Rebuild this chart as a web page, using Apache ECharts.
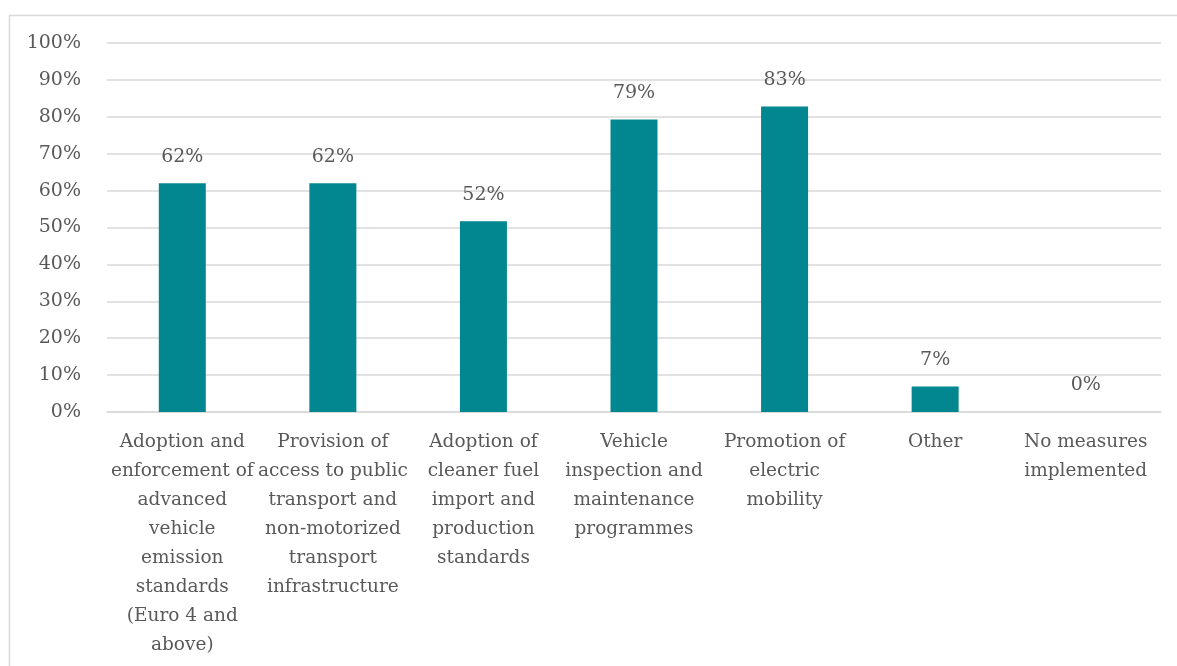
<!DOCTYPE html>
<html>
<head>
<meta charset="utf-8">
<script src="https://cdn.jsdelivr.net/npm/echarts@6/dist/echarts.min.js"></script>
<style>
html,body{margin:0;padding:0;background:#fff;}
#main{width:1177px;height:666px;}
</style>
</head>
<body>
<div id="main"></div>
<script>
const categories = [
  "Adoption and\nenforcement of\nadvanced\nvehicle\nemission\nstandards\n(Euro 4 and\nabove)",
  "Provision of\naccess to public\ntransport and\nnon-motorized\ntransport\ninfrastructure",
  "Adoption of\ncleaner fuel\nimport and\nproduction\nstandards",
  "Vehicle\ninspection and\nmaintenance\nprogrammes",
  "Promotion of\nelectric\nmobility",
  "Other",
  "No measures\nimplemented"
];
const values = [62, 62, 51.7, 79.3, 82.8, 6.9, 0];
const yTicks = [0, 10, 20, 30, 40, 50, 60, 70, 80, 90, 100];

const FONT = "'DejaVu Serif', 'Liberation Serif', serif";
const TXT = '#595959';

const chart = echarts.init(document.getElementById('main'), null, {renderer: 'canvas'});
chart.setOption({
  animation: false,
  backgroundColor: '#ffffff',
  graphic: [{
    type: 'rect', left: 7, top: 13, silent: true,
    shape: {width: 1300, height: 800},
    style: {fill: 'none', stroke: '#d9d9d9', lineWidth: 1.5}
  }],
  grid: {left: 107, right: 16, top: 43, bottom: 254, containLabel: false},
  xAxis: {
    type: 'category',
    data: categories,
    axisLine: {show: true, lineStyle: {color: '#d9d9d9', width: 1.5}},
    axisTick: {show: false},
    axisLabel: {
      interval: 0, margin: 16, color: TXT, fontFamily: FONT, fontSize: 18.5,
      lineHeight: 29, align: 'center'
    }
  },
  yAxis: {
    type: 'value', min: yTicks[0], max: yTicks[yTicks.length - 1], interval: 10,
    axisLine: {show: false}, axisTick: {show: false},
    splitLine: {lineStyle: {color: '#d9d9d9', width: 1.5}},
    axisLabel: {
      margin: 26, color: TXT, fontFamily: FONT, fontSize: 19,
      formatter: v => v + '%'
    }
  },
  series: [{
    type: 'bar',
    data: values,
    barWidth: 47,
    itemStyle: {color: '#02868f'},
    label: {
      show: true, position: 'top', distance: 17,
      color: TXT, fontFamily: FONT, fontSize: 19,
      formatter: p => Math.round(p.value) + '%'
    }
  }]
});
</script>
</body>
</html>
